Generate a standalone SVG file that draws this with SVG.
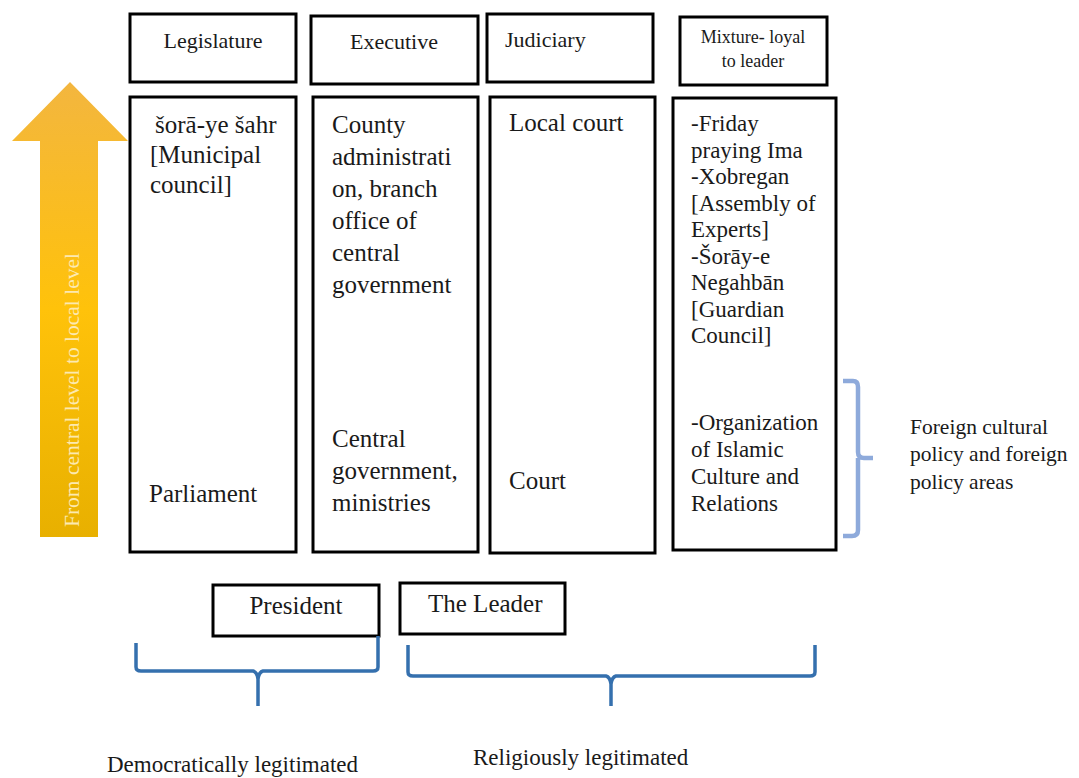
<svg xmlns="http://www.w3.org/2000/svg" width="1079" height="778" viewBox="0 0 1079 778">
<defs>
<linearGradient id="arrowGrad" x1="0" y1="0" x2="0" y2="1">
<stop offset="0" stop-color="#F3B63F"/>
<stop offset="0.5" stop-color="#FFC20A"/>
<stop offset="1" stop-color="#E8B000"/>
</linearGradient>
</defs>
<style>
text{font-family:"Liberation Serif","Times New Roman",serif;fill:#1a1a1a}
.box{fill:#fff;stroke:#000;stroke-width:3}
.hd{font-size:22px}
.mx{font-size:18px}
.main{font-size:25px}
.sm{font-size:23px}
.note{font-size:21.5px}
.brace{fill:none;stroke:#3570AE;stroke-width:3.5;stroke-linejoin:round;stroke-linecap:butt}
.brace2{fill:none;stroke:#8EAADB;stroke-width:4.5;stroke-linejoin:round}
</style>
<rect width="1079" height="778" fill="#fff"/>

<g id="arrow">
<polygon points="70,82 128,141 98,141 98,537 40,537 40,141 12,141" fill="url(#arrowGrad)"/>
<text x="79" y="390" transform="rotate(-90 79 390)" text-anchor="middle" style="font-size:21.5px;fill:#FCE9B0">From central level to local level</text>
</g>

<g id="hdr-legislature">
<rect class="box" x="130" y="14" width="166" height="68"/>
<text class="hd" x="213" y="48" text-anchor="middle">Legislature</text>
</g>
<g id="hdr-executive">
<rect class="box" x="311" y="16" width="167" height="68"/>
<text class="hd" x="394" y="49" text-anchor="middle">Executive</text>
</g>
<g id="hdr-judiciary">
<rect class="box" x="487" y="14" width="166" height="68"/>
<text class="hd" x="505" y="47">Judiciary</text>
</g>
<g id="hdr-mixture">
<rect class="box" x="680" y="17" width="147" height="68"/>
<text class="mx" x="753" y="43" text-anchor="middle">Mixture- loyal</text>
<text class="mx" x="753" y="67" text-anchor="middle">to leader</text>
</g>

<g id="col-legislature">
<rect class="box" x="130" y="97" width="166" height="455"/>
<text class="main" x="155" y="133">šorā-ye šahr</text>
<text class="main" x="150" y="163">[Municipal</text>
<text class="main" x="150" y="193">council]</text>
<text class="main" x="149" y="502">Parliament</text>
</g>
<g id="col-executive">
<rect class="box" x="313" y="97" width="165" height="455"/>
<text class="main" x="332" y="133">County</text>
<text class="main" x="332" y="165">administrati</text>
<text class="main" x="332" y="197">on, branch</text>
<text class="main" x="332" y="229">office of</text>
<text class="main" x="332" y="261">central</text>
<text class="main" x="332" y="293">government</text>
<text class="main" x="332" y="447">Central</text>
<text class="main" x="332" y="479">government,</text>
<text class="main" x="332" y="511">ministries</text>
</g>
<g id="col-judiciary">
<rect class="box" x="490" y="97" width="165" height="456"/>
<text class="main" x="509" y="131">Local court</text>
<text class="main" x="509" y="489">Court</text>
</g>
<g id="col-mixture">
<rect class="box" x="673" y="98" width="163" height="452"/>
<text class="sm" x="691" y="131">-Friday</text>
<text class="sm" x="691" y="157.5">praying Ima</text>
<text class="sm" x="691" y="184">-Xobregan</text>
<text class="sm" x="691" y="210.5">[Assembly of</text>
<text class="sm" x="691" y="237">Experts]</text>
<text class="sm" x="691" y="263.5">-Šorāy-e</text>
<text class="sm" x="691" y="290">Negahbān</text>
<text class="sm" x="691" y="316.5">[Guardian</text>
<text class="sm" x="691" y="343">Council]</text>
<text class="sm" x="691" y="430">-Organization</text>
<text class="sm" x="691" y="457">of Islamic</text>
<text class="sm" x="691" y="484">Culture and</text>
<text class="sm" x="691" y="511">Relations</text>
</g>

<g id="president">
<rect class="box" x="213" y="585" width="166" height="51"/>
<text class="main" x="296" y="614" text-anchor="middle">President</text>
</g>
<g id="leader">
<rect class="box" x="400" y="583" width="165" height="51"/>
<text class="main" x="428" y="612">The Leader</text>
</g>

<g id="connectors">
<path class="brace" d="M136,643 L136,667 Q136,671 141,671 L253,671 Q257,672 258,679 L258,706 M258,679 Q259,672 263,671 L373,671 Q378,671 378,667 L378,636"/>
<path class="brace" d="M408,645 L408,672 Q408,676 413,676 L606,676 Q610,677 611,684 L611,706 M611,684 Q612,677 616,676 L810,676 Q815,676 815,672 L815,645"/>
<path class="brace2" d="M843,381 L853,381 Q858,381 858,387 L858,452 Q858,458 864,458 L873,458 M858,458 L858,530 Q858,536 852,536 L843,536"/>
</g>

<g id="label-foreign">
<text class="note" x="910" y="434">Foreign cultural</text>
<text class="note" x="910" y="461">policy and foreign</text>
<text class="note" x="910" y="489">policy areas</text>
</g>
<g id="label-democratic">
<text class="sm" x="107" y="772">Democratically legitimated</text>
</g>
<g id="label-religious">
<text class="sm" x="473" y="765">Religiously legitimated</text>
</g>
</svg>
